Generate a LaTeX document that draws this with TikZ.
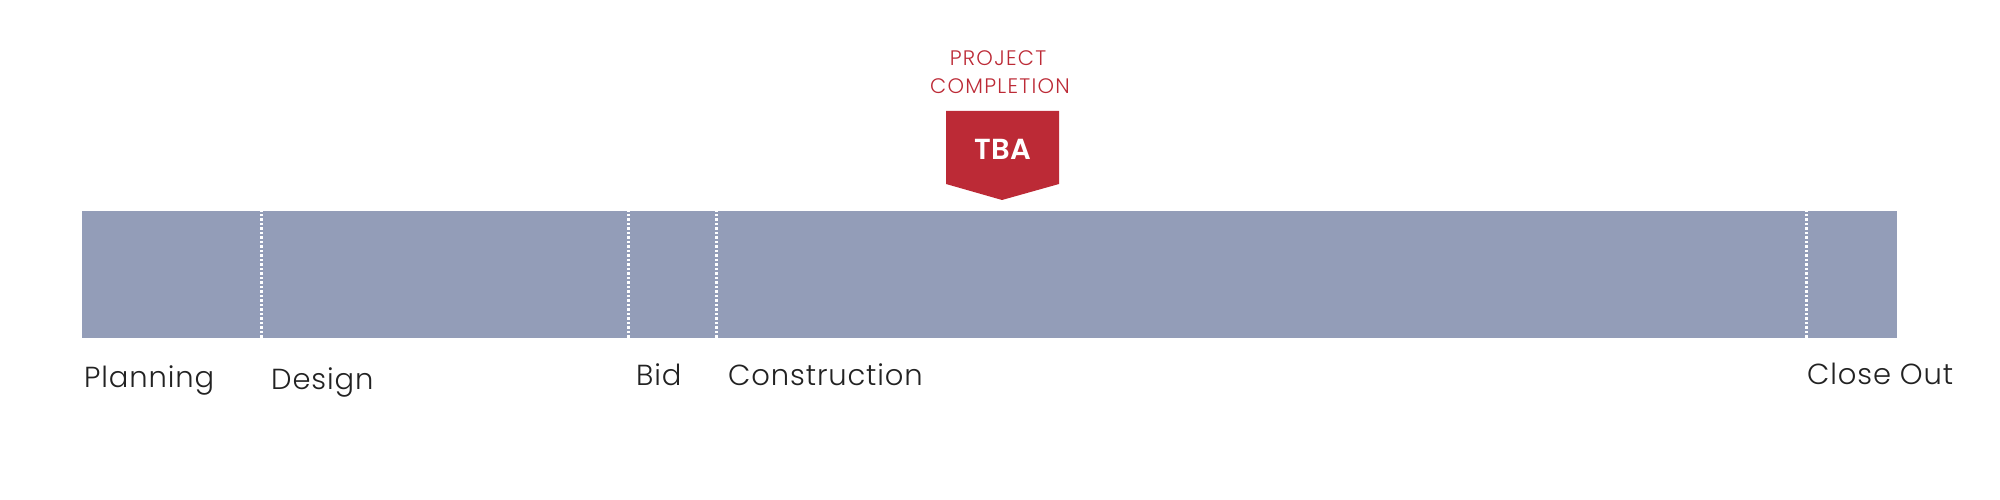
\documentclass[tikz,border=0pt]{standalone}
\usepackage{fontspec}
\setmainfont{Poppins}[UprightFont=* Light,BoldFont=* SemiBold]
\definecolor{barblue}{HTML}{939DB8}
\definecolor{tbared}{HTML}{BC2A36}
\definecolor{labeltext}{HTML}{222222}
\begin{document}
\begin{tikzpicture}[x=1pt,y=1pt,
  phase/.style={anchor=base west,inner sep=0pt,text=labeltext,font=\fontsize{29}{31}\selectfont\addfontfeatures{LetterSpace=3}},
  divider/.style={white,line width=3pt,dash pattern=on 2.5pt off 2pt},
  redlabel/.style={anchor=base,inner sep=0pt,text=tbared,font=\fontsize{21}{24}\selectfont\addfontfeatures{LetterSpace=6}}]
\useasboundingbox (0,0) rectangle (2000,500);
% bar
\fill[barblue] (82,162) rectangle (1897,289);
\foreach \x in {261,628,716,1806}
  \draw[divider] (\x,162) -- (\x,289);
% marker
\fill[tbared] (946,389) -- (1059,389) -- (1059,316) -- (1002,300) -- (946,316) -- cycle;
\node[anchor=base,inner sep=0pt,text=white,font=\fontsize{29}{30}\selectfont\bfseries] (tba) at (1003,340) {TBA};
\node[redlabel] (proj) at (998,434) {PROJECT};
\node[redlabel] (comp) at (1000,406) {COMPLETION};
% labels
\node[phase] (planning) at (84,112) {Planning};
\node[phase] (design) at (271,110) {Design};
\node[phase] (bid) at (636,114) {Bid};
\node[phase] (construction) at (728,114) {Construction};
\node[phase] (closeout) at (1807,115) {Close Out};
\end{tikzpicture}
\end{document}
